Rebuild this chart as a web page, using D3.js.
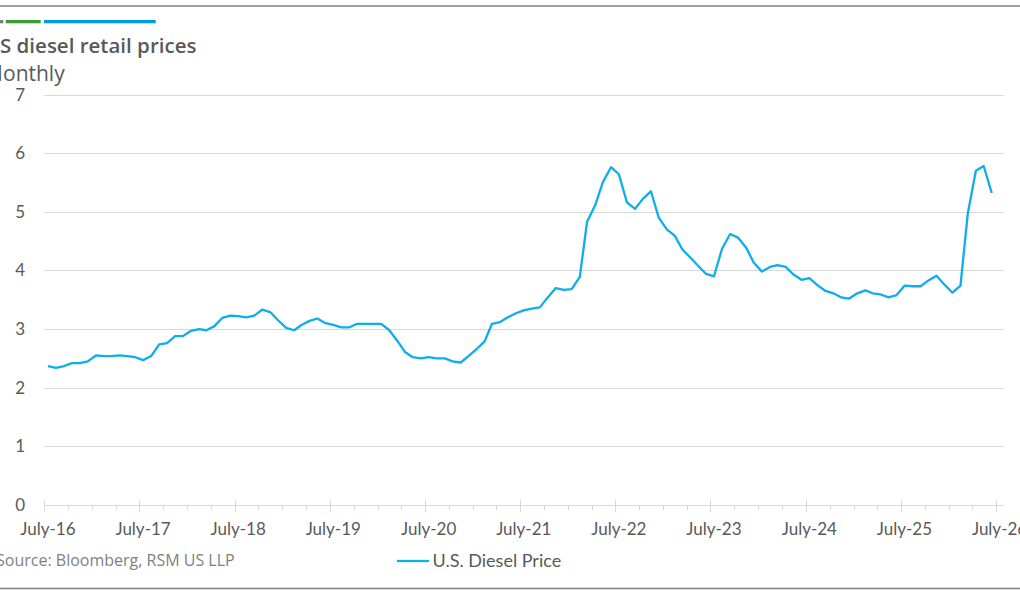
<!DOCTYPE html>
<html><head><meta charset="utf-8">
<script src="https://cdn.jsdelivr.net/npm/d3@7"></script>
<style>body{margin:0;background:#fff;} svg{display:block}</style>
</head><body>
<svg id="c" width="1020" height="597"></svg>
<script>
// ---------------- data ----------------
const titleText = "US diesel retail prices";
const subtitleText = "Monthly";
const sourceText = "Source: Bloomberg, RSM US LLP";
const seriesName = "U.S. Diesel Price";
const firstYear = 2016, firstMonthIndex = 6; // July 2016
const dieselPrice = [
  2.37, 2.34, 2.37, 2.42, 2.42, 2.45,            // Jul-Dec 2016
  2.55, 2.54, 2.54, 2.55, 2.54, 2.52, 2.47, 2.54, 2.74, 2.76, 2.88, 2.88, // 2017
  2.97, 3.00, 2.98, 3.05, 3.19, 3.23, 3.22, 3.20, 3.23, 3.33, 3.29, 3.15, // 2018
  3.02, 2.98, 3.07, 3.14, 3.18, 3.10, 3.07, 3.03, 3.03, 3.09, 3.09, 3.09, // 2019
  3.09, 2.98, 2.81, 2.61, 2.52, 2.50, 2.52, 2.50, 2.50, 2.45, 2.43, 2.54, // 2020
  2.66, 2.79, 3.09, 3.12, 3.20, 3.27, 3.32, 3.35, 3.37, 3.54, 3.70, 3.67, // 2021
  3.68, 3.89, 4.83, 5.11, 5.51, 5.76, 5.64, 5.16, 5.05, 5.22, 5.35, 4.90, // 2022
  4.70, 4.59, 4.36, 4.22, 4.08, 3.94, 3.90, 4.37, 4.62, 4.56, 4.39, 4.13, // 2023
  3.98, 4.06, 4.09, 4.06, 3.93, 3.84, 3.87, 3.75, 3.65, 3.61, 3.54, 3.52, // 2024
  3.61, 3.66, 3.61, 3.59, 3.54, 3.58, 3.74, 3.73, 3.73, 3.83, 3.91, 3.76, // 2025
  3.62, 3.74, 4.97, 5.70, 5.78, 5.32              // Jan-Jun 2026
];
const yTickValues = [0, 1, 2, 3, 4, 5, 6, 7];
const xTickYears = [2016, 2017, 2018, 2019, 2020, 2021, 2022, 2023, 2024, 2025, 2026];
const xTickLabels = ["July-16","July-17","July-18","July-19","July-20","July-21","July-22","July-23","July-24","July-25","July-26"];

// ---------------- chart ----------------
const svg = d3.select("#c");
const lineColor = "#0DAEEB";
const textColor = "#595959";
const gridColor = "#d9d9d9";
const fontAxis = "Lato, 'Liberation Sans', sans-serif";
const fontTitle = "'Open Sans', 'Noto Sans', sans-serif";

const x = d3.scaleTime()
  .domain([new Date(2016, 6, 1), new Date(2026, 7, 1)])
  .range([44.3, 1004]);
const y = d3.scaleLinear().domain([0, 7]).range([505, 94.5]);

const data = dieselPrice.map((v, i) => ({
  date: new Date(firstYear, firstMonthIndex + i, 15),
  value: v
}));

// frame lines
svg.append("line").attr("x1", 0).attr("x2", 1020).attr("y1", 6).attr("y2", 6)
  .attr("stroke", "#808080").attr("stroke-width", 1.3);
svg.append("line").attr("x1", 0).attr("x2", 1020).attr("y1", 588.5).attr("y2", 588.5)
  .attr("stroke", "#808080").attr("stroke-width", 1.3);

// brand bars
svg.append("rect").attr("x", 0).attr("y", 20).attr("width", 3.3).attr("height", 3.3).attr("fill", "#7c7c7c");
svg.append("rect").attr("x", 5.7).attr("y", 20).attr("width", 35).attr("height", 3.3).attr("fill", "#3F9C35");
svg.append("rect").attr("x", 44).attr("y", 20).attr("width", 111.7).attr("height", 3.3).attr("fill", "#009CDE");

// title (left part cropped as in reference)
const t = svg.append("text").attr("y", 53).attr("font-family", fontTitle)
  .attr("font-weight", 600).attr("font-size", 20.5).attr("fill", textColor).text(titleText);
t.attr("x", -t.node().getSubStringLength(0, 1));

const st = svg.append("text").attr("y", 81).attr("font-family", fontTitle)
  .attr("font-size", 21).attr("fill", textColor).text(subtitleText);
st.attr("x", 3 - st.node().getSubStringLength(0, 1));

// gridlines
svg.append("g").selectAll("line").data(yTickValues.filter(d => d > 0)).join("line")
  .attr("x1", 44.3).attr("x2", 1004)
  .attr("y1", d => Math.round(y(d)) + 0.5).attr("y2", d => Math.round(y(d)) + 0.5)
  .attr("stroke", gridColor).attr("stroke-width", 1);

// y labels
svg.append("g").selectAll("text").data(yTickValues).join("text")
  .attr("x", 25).attr("y", d => y(d) + 6)
  .attr("text-anchor", "end").attr("font-family", fontAxis).attr("font-size", 17)
  .attr("fill", textColor).text(d => d);

// x axis line
svg.append("line").attr("x1", 44.3).attr("x2", 1004).attr("y1", 505.5).attr("y2", 505.5)
  .attr("stroke", gridColor).attr("stroke-width", 1);

// major ticks
const majorDates = xTickYears.map(yr => new Date(yr, 6, 1));
svg.append("g").selectAll("line").data(majorDates).join("line")
  .attr("x1", d => Math.round(x(d)) + 0.5).attr("x2", d => Math.round(x(d)) + 0.5)
  .attr("y1", 500).attr("y2", 512)
  .attr("stroke", gridColor).attr("stroke-width", 1);

// minor ticks (quarterly)
const minorDates = d3.timeMonth.every(3).range(new Date(2016, 6, 1), new Date(2026, 7, 1))
  .filter(d => d.getMonth() !== 6);
svg.append("g").selectAll("line").data(minorDates).join("line")
  .attr("x1", d => Math.round(x(d)) + 0.5).attr("x2", d => Math.round(x(d)) + 0.5)
  .attr("y1", 505).attr("y2", 510)
  .attr("stroke", gridColor).attr("stroke-width", 1);

// x labels
svg.append("g").selectAll("text").data(xTickYears).join("text")
  .attr("x", (d) => x(new Date(d, 6, 15)))
  .attr("y", 535)
  .attr("text-anchor", "middle").attr("font-family", fontAxis).attr("font-size", 17)
  .attr("fill", textColor).text((d, i) => xTickLabels[i]);

// series line
svg.append("path").datum(data)
  .attr("fill", "none").attr("stroke", lineColor).attr("stroke-width", 2.3)
  .attr("stroke-linejoin", "round")
  .attr("d", d3.line().x(d => x(d.date)).y(d => y(d.value)));

// source
const src = svg.append("text").attr("y", 566).attr("font-family", fontTitle)
  .attr("font-size", 16).attr("fill", "#7f7f7f").text(sourceText);
src.attr("x", -src.node().getSubStringLength(0, 1) * 0.45);

// legend
svg.append("line").attr("x1", 397).attr("x2", 429).attr("y1", 561).attr("y2", 561)
  .attr("stroke", lineColor).attr("stroke-width", 2.3);
svg.append("text").attr("x", 432.5).attr("y", 567).attr("font-family", fontAxis)
  .attr("font-size", 18).attr("fill", textColor).text(seriesName);
</script>
</body></html>
